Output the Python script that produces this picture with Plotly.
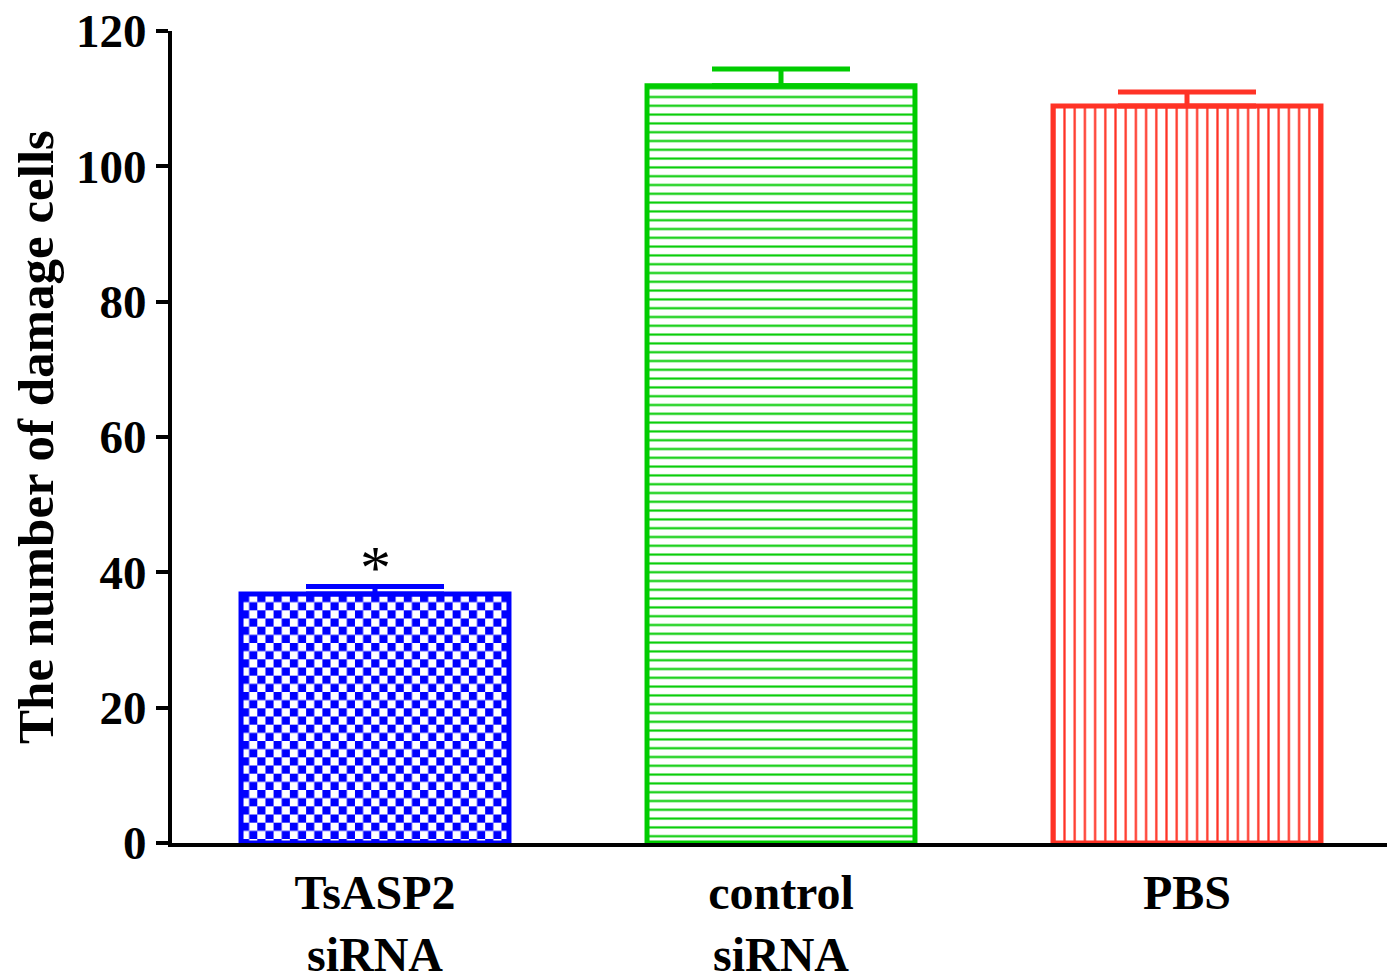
import base64
import plotly.graph_objects as go

categories = ["TsASP2<br>siRNA", "control<br>siRNA", "PBS"]
values = [36.8, 111.9, 108.9]
errors = [1.1, 2.5, 2.1]
colors = ["#0000FF", "#00CC00", "#FF3326"]
shapes = ["", "-", "|"]
pat_sizes = [16, 8.8, 10.2]
pat_solid = [0.5, 0.24, 0.22]
y_ticks = [0, 20, 40, 60, 80, 100, 120]
signif = ["*", "", ""]
checker = [True, False, False]

font_family = "Liberation Serif"
bar_width = 0.66


def checker_svg(color):
    svg = (
        "<svg xmlns='http://www.w3.org/2000/svg' width='270' height='250' "
        "viewBox='0 0 270 250' preserveAspectRatio='none'>"
        "<defs><pattern id='c' width='16.4' height='16.4' patternUnits='userSpaceOnUse'>"
        f"<rect width='8.2' height='8.2' fill='{color}'/>"
        f"<rect x='8.2' y='8.2' width='8.2' height='8.2' fill='{color}'/>"
        "</pattern></defs>"
        "<rect width='270' height='250' fill='white'/>"
        "<rect width='270' height='250' fill='url(#c)'/></svg>"
    )
    return "data:image/svg+xml;base64," + base64.b64encode(svg.encode()).decode()


fig = go.Figure()
for i, cat in enumerate(categories):
    if shapes[i]:
        marker = dict(
            color="white",
            line=dict(color=colors[i], width=5),
            pattern=dict(shape=shapes[i], fgcolor=colors[i], bgcolor="white",
                         size=pat_sizes[i], solidity=pat_solid[i], fgopacity=1,
                         fillmode="overlay"),
        )
    else:
        marker = dict(color="rgba(0,0,0,0)", line=dict(color=colors[i], width=5))
    fig.add_trace(go.Bar(
        x=[i], y=[values[i]],
        width=bar_width,
        marker=marker,
        error_y=dict(type="data", array=[errors[i]], arrayminus=[0], symmetric=False,
                     color=colors[i], thickness=5, width=69),
        showlegend=False,
    ))
    if checker[i]:
        fig.add_layout_image(
            source=checker_svg(colors[i]), xref="x", yref="y",
            x=i - bar_width / 2, y=values[i], sizex=bar_width, sizey=values[i],
            xanchor="left", yanchor="top", sizing="stretch", layer="below",
        )
    if signif[i]:
        fig.add_annotation(x=i, y=values[i] + errors[i], text=signif[i],
                           showarrow=False, yanchor="bottom", yshift=-16,
                           font=dict(family=font_family, size=62, color="black"))

fig.update_layout(
    width=1395, height=974,
    margin=dict(l=164, r=13, t=23, b=139),
    paper_bgcolor="white", plot_bgcolor="rgba(0,0,0,0)",
    font=dict(family=font_family, color="black"),
)
fig.update_xaxes(
    range=[-0.5, 2.5], tickvals=list(range(len(categories))), ticktext=categories,
    showline=True, linecolor="black", linewidth=4,
    ticks="", showgrid=False, zeroline=False, automargin=False,
    tickfont=dict(family=font_family, size=48, color="black", weight="bold"),
    ticklabelstandoff=4, ticklabeloverflow="allow",
)
fig.update_yaxes(
    range=[0, 120], tickvals=y_ticks, showline=True, linecolor="black", linewidth=4,
    ticks="outside", ticklen=12, tickwidth=4, tickcolor="black",
    showgrid=False, zeroline=False, automargin=False,
    tickfont=dict(family=font_family, size=47, color="black", weight="bold"),
    ticklabelstandoff=0, ticklabeloverflow="allow",
    title=dict(text="The number of damage cells", standoff=27,
               font=dict(family=font_family, size=51, color="black", weight="bold")),
)
fig.write_html("out.html")
